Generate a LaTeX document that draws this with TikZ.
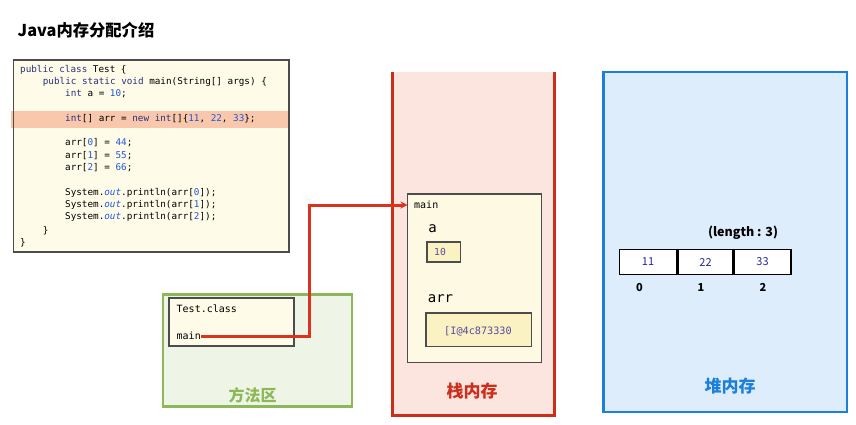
\documentclass[tikz,border=0pt]{standalone}
\usepackage{fontspec}
\setmainfont{Noto Sans CJK SC}
\setmonofont{DejaVu Sans Mono}
\usepackage{xcolor}
\usepackage{tikz}
\usetikzlibrary{arrows.meta, positioning, calc}
\definecolor{codebg}{HTML}{FEFCE8}
\definecolor{codehl}{HTML}{F9C8AC}
\definecolor{codekw}{HTML}{2A317A}
\definecolor{codenum}{HTML}{2057D8}
\definecolor{stackred}{HTML}{CC2E1C}
\definecolor{linkred}{HTML}{DC3220}
\definecolor{stackbg}{HTML}{FCE5DF}
\definecolor{methgreen}{HTML}{8CB858}
\definecolor{methbg}{HTML}{EEF5E6}
\definecolor{heapblue}{HTML}{1C7FDB}
\definecolor{heapbg}{HTML}{DDEDFB}
\definecolor{framebg}{HTML}{FEF9E2}
\definecolor{slotbg}{HTML}{FBF2C4}
\definecolor{valpurple}{HTML}{574A9C}
\newcommand{\jkw}[1]{\textcolor{codekw}{#1}}
\newcommand{\jnum}[1]{\textcolor{codenum}{#1}}
\newcommand{\jout}{\textcolor{codenum}{\itshape out}}

\begin{document}
\begin{tikzpicture}[x=1pt, y=-1pt,
  code/.style={anchor=west, inner sep=0pt, text height=7pt, text depth=2pt,
               font=\ttfamily\fontsize{9.3}{11}\selectfont},
  mono/.style={anchor=west, inner sep=0pt, font=\ttfamily\fontsize{10}{12}\selectfont},
  zone/.style={font=\bfseries\fontsize{17}{20}\selectfont},
  cell/.style={draw=black, line width=1.5pt, fill=white, minimum width=55.5pt,
               minimum height=25pt, inner sep=0pt, text=codekw!80!blue,
               font=\fontsize{11}{13}\selectfont},
  link/.style={linkred, line width=3pt, -{Stealth[length=7pt, width=7pt]}}]
\useasboundingbox (0,0) rectangle (856,424);

% ---- title ---------------------------------------------------------------
\node[anchor=west, inner sep=0pt, font=\bfseries\fontsize{16.3}{19}\selectfont]
  (title) at (17.5,30) {Java内存分配介绍};

% ---- source code ---------------------------------------------------------
\fill[codebg] (13.5,60) rectangle (289,252);
\fill[codehl] (11,111) rectangle (289,128);
\draw[black!70, line width=1.2pt] (13.5,60) rectangle (289,252);
\node[code] (code1)  at (20,70)    {\jkw{public class} Test \{};
\node[code] (code2)  at (42.7,82.3) {\jkw{public static void} main(String[] args) \{};
\node[code] (code3)  at (65,94.3)  {\jkw{int} a = \jnum{10};};
\node[code] (code4)  at (65,119)   {\jkw{int}[] arr = \jkw{new} \jkw{int}[]\{\jnum{11}, \jnum{22}, \jnum{33}\};};
\node[code] (code5)  at (65,143.3) {arr[\jnum{0}] = \jnum{44};};
\node[code] (code6)  at (65,155.5) {arr[\jnum{1}] = \jnum{55};};
\node[code] (code7)  at (65,167.7) {arr[\jnum{2}] = \jnum{66};};
\node[code] (code8)  at (65,192.7) {System.\jout.println(arr[\jnum{0}]);};
\node[code] (code9)  at (65,205)   {System.\jout.println(arr[\jnum{1}]);};
\node[code] (code10) at (65,217.3) {System.\jout.println(arr[\jnum{2}]);};
\node[code] (code11) at (42.7,230.7) {\}};
\node[code] (code12) at (20,243.3) {\}};

% ---- method area ---------------------------------------------------------
\fill[methbg] (163,294.5) rectangle (352,406.5);
\draw[methgreen, line width=2.6pt] (163,294.5) rectangle (352,406.5);
\fill[codebg] (169,298) rectangle (294,346);
\draw[black!70, line width=1.2pt] (169,298) rectangle (294,346);
\node[mono] (clsname) at (176.5,309) {Test.class};
\node[mono, inner xsep=0pt, inner ysep=2pt] (clsmain) at (176.5,336) {main\hspace{5pt}};
\node[zone, text=methgreen, font=\bfseries\fontsize{16}{19}\selectfont] (methlbl) at (252.5,395) {方法区};

% ---- stack memory --------------------------------------------------------
\fill[stackbg] (392.5,72) rectangle (554.5,415.5);
\draw[stackred, line width=2.6pt] (392.5,72) -- (392.5,415.5) -- (554.5,415.5) -- (554.5,72);
\fill[framebg] (407.5,194) rectangle (541.5,362.5);
\draw[black!70, line width=1.2pt] (407.5,194) rectangle (541.5,362.5);
\node[mono, inner xsep=6.5pt] (frmmain) at (407.5,205) {main};
\node[font=\ttfamily\fontsize{14}{16}\selectfont] (varA) at (432.5,229) {a};
\draw[black!70, line width=1.2pt, fill=slotbg] (427,242) rectangle (460.5,262);
\node[font=\ttfamily\fontsize{9.7}{12}\selectfont, text=valpurple] (valA) at (440,252) {10};
\node[font=\ttfamily\fontsize{14}{16}\selectfont] (varArr) at (440.5,299) {arr};
\draw[black!70, line width=1.2pt, fill=slotbg] (426,313) rectangle (531.5,346.5);
\node[font=\ttfamily\fontsize{10.2}{12}\selectfont, text=valpurple] (valArr) at (478,331.5) {[I@4c873330};
\node[zone, text=stackred] (stacklbl) at (472,391) {栈内存};

% ---- heap memory ---------------------------------------------------------
\fill[heapbg] (603.5,72) rectangle (847,412);
\draw[heapblue, line width=2.6pt] (603.5,72) rectangle (847,412);
\node[font=\bfseries\fontsize{12.5}{15}\selectfont] (lenlbl) at (743,233) {(length : 3)};
\node[cell, minimum width=57.5pt] (cell0) at (648,262) {11};
\node[cell, minimum width=54.5pt, right=0pt of cell0] (cell1) {22};
\node[cell, minimum width=56.5pt, right=0pt of cell1] (cell2) {33};
\node[font=\bfseries\fontsize{11}{13}\selectfont] (idx0) at (639.5,287) {0};
\node[font=\bfseries\fontsize{11}{13}\selectfont] (idx1) at (701,287) {1};
\node[font=\bfseries\fontsize{11}{13}\selectfont] (idx2) at (763,287) {2};
\node[zone, text=heapblue] (heaplbl) at (730,386) {堆内存};

% ---- call link -----------------------------------------------------------
\coordinate (turn) at (309,0);
\draw[link] (clsmain.east) -| (turn |- frmmain.west) -- (frmmain.west);
\end{tikzpicture}
\end{document}
